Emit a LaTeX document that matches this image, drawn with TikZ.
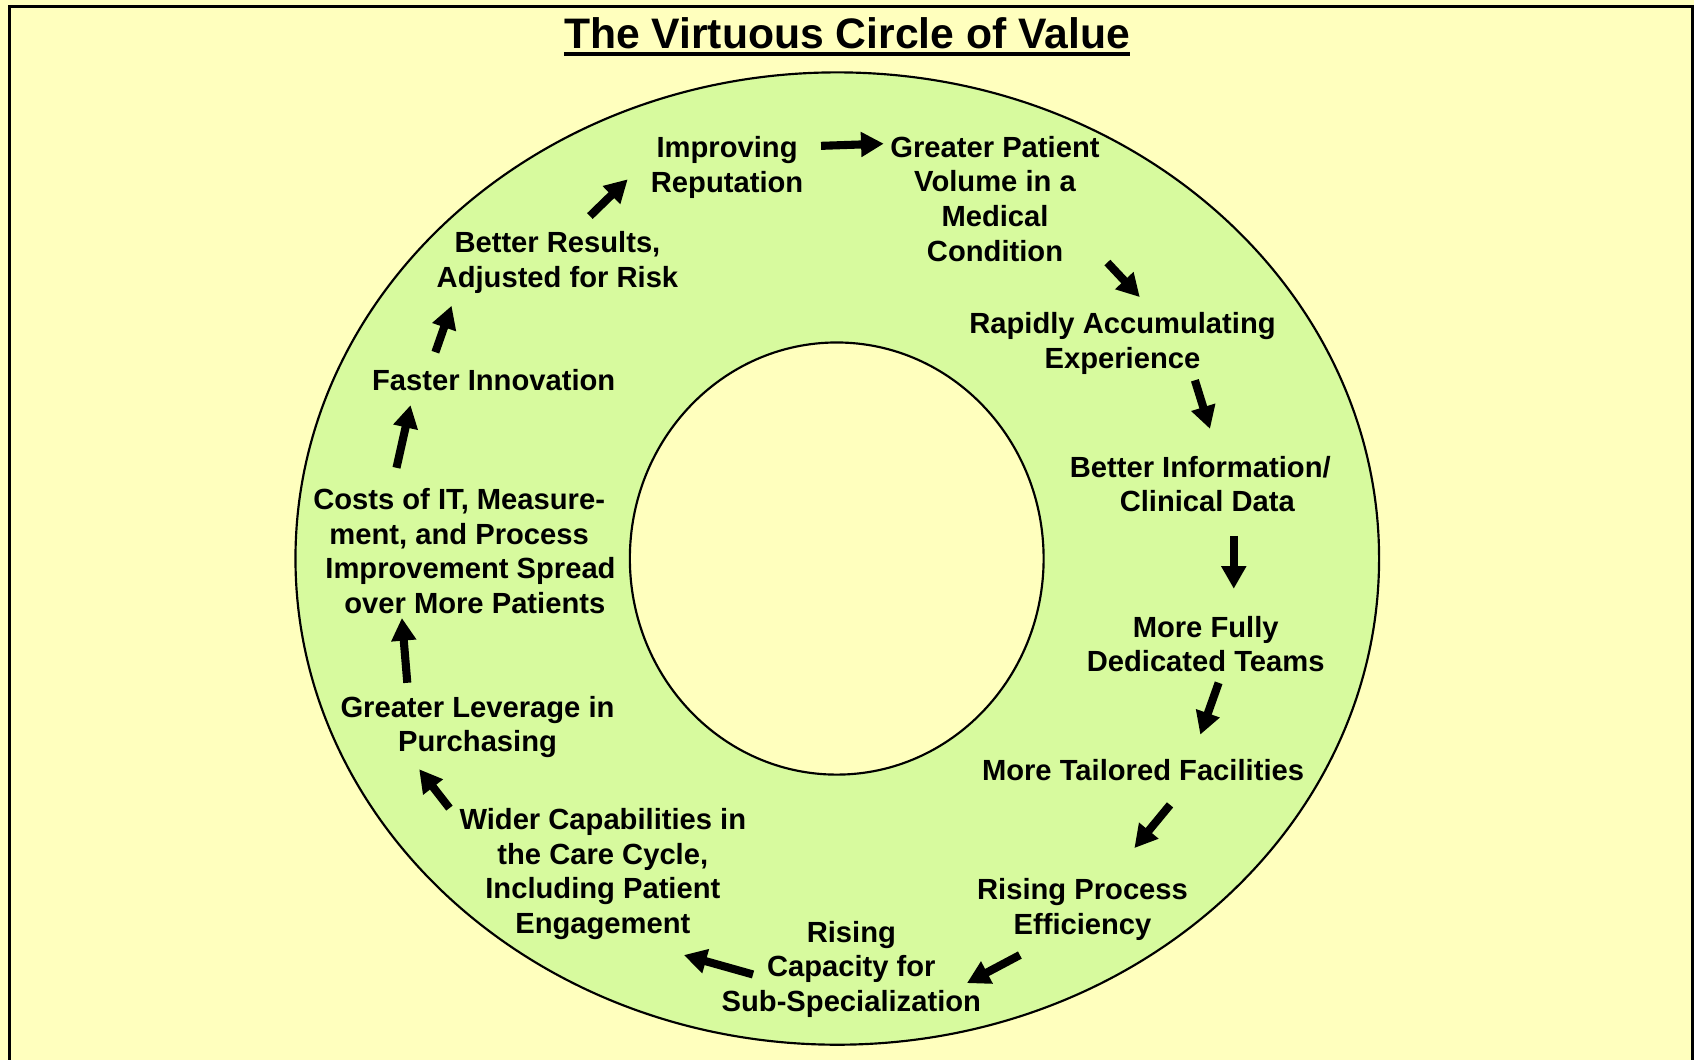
\documentclass[tikz,border=0pt]{standalone}
\usepackage{fontspec}
\setmainfont{Liberation Sans}
\usetikzlibrary{arrows.meta}
\definecolor{bgyellow}{RGB}{255,255,190}
\definecolor{ringgreen}{RGB}{215,250,158}
\begin{document}
\begin{tikzpicture}[x=1pt,y=-1pt,
  lbl/.style={font=\fontsize{27}{32}\selectfont\bfseries, align=center, inner sep=0pt},
  flow/.style={line width=7.5pt, -{Triangle[length=21pt,width=22pt]}, black}]
\useasboundingbox (0,0) rectangle (1568,981);
\fill[bgyellow] (0,0) rectangle (1568,981);
\draw[line width=2.8pt] (8.5,1000) -- (8.5,6) -- (1566.5,6) -- (1566.5,1000);
% rings
\draw[fill=ringgreen, line width=2pt] (775,517) ellipse [x radius=501.5, y radius=450];
\draw[fill=bgyellow, line width=2pt] (774.5,517) ellipse [x radius=191.5, y radius=200];
% title
\node[font=\fontsize{39.5}{44}\selectfont\bfseries, inner sep=0pt, anchor=base] (title) at (784,45) {The Virtuous Circle of Value};
\draw[line width=3pt] ([yshift=-5pt]title.base west) -- ([yshift=-5pt]title.base east);
% labels
\node[lbl] (n1) at (673,155) {Improving\\Reputation};
\node[lbl] (n2) at (921,184) {Greater Patient\\Volume in a\\Medical\\Condition};
\node[lbl] (n3) at (1039,318) {Rapidly Accumulating\\Experience};
\node[lbl] (n4) at (1114,448) {Better Information/\kern6pt\\\kern7pt Clinical Data};
\node[lbl] (n5) at (1116,596) {More Fully\\Dedicated Teams};
\node[lbl] (n6) at (1058,713) {More Tailored Facilities};
\node[lbl] (n7) at (1002,842) {Rising Process\\Efficiency};
\node[lbl] (n8) at (788,897) {Rising\\Capacity for\\Sub-Specialization};
\node[lbl] (n9) at (558,809) {Wider Capabilities in\\the Care Cycle,\\Including Patient\\Engagement};
\node[lbl] (n10) at (442,673) {Greater Leverage in\\Purchasing};
\node[lbl] (n11) at (430,510) {Costs of IT, Measure-\kern10pt\\ment, and Process\kern10pt\\\kern11pt Improvement Spread\\\kern19pt over More Patients};
\node[lbl] (n12) at (457,352) {Faster Innovation};
\node[lbl] (n13) at (516,243) {Better Results,\\Adjusted for Risk};
% arrow end points
\coordinate (a1) at (760,135);  \coordinate (b1) at (818,133);
\coordinate (a2) at (1025,243); \coordinate (b2) at (1055,275);
\coordinate (a3) at (1106,352); \coordinate (b3) at (1120,397);
\coordinate (a4) at (1142,496); \coordinate (b4) at (1142,545);
\coordinate (a5) at (1128,632); \coordinate (b5) at (1111,680);
\coordinate (a6) at (1083,745); \coordinate (b6) at (1050,785);
\coordinate (a7) at (944,884);  \coordinate (b7) at (895,910);
\coordinate (a8) at (697,902);  \coordinate (b8) at (633,884);
\coordinate (a9) at (416,748);  \coordinate (b9) at (388,712);
\coordinate (a10) at (377,632); \coordinate (b10) at (372,572);
\coordinate (a11) at (367,433); \coordinate (b11) at (380,375);
\coordinate (a12) at (403,326); \coordinate (b12) at (418,283);
\coordinate (a13) at (546,200); \coordinate (b13) at (581,166);
\foreach \i in {1,...,13} { \draw[flow] (a\i) -- (b\i); }
\end{tikzpicture}
\end{document}
